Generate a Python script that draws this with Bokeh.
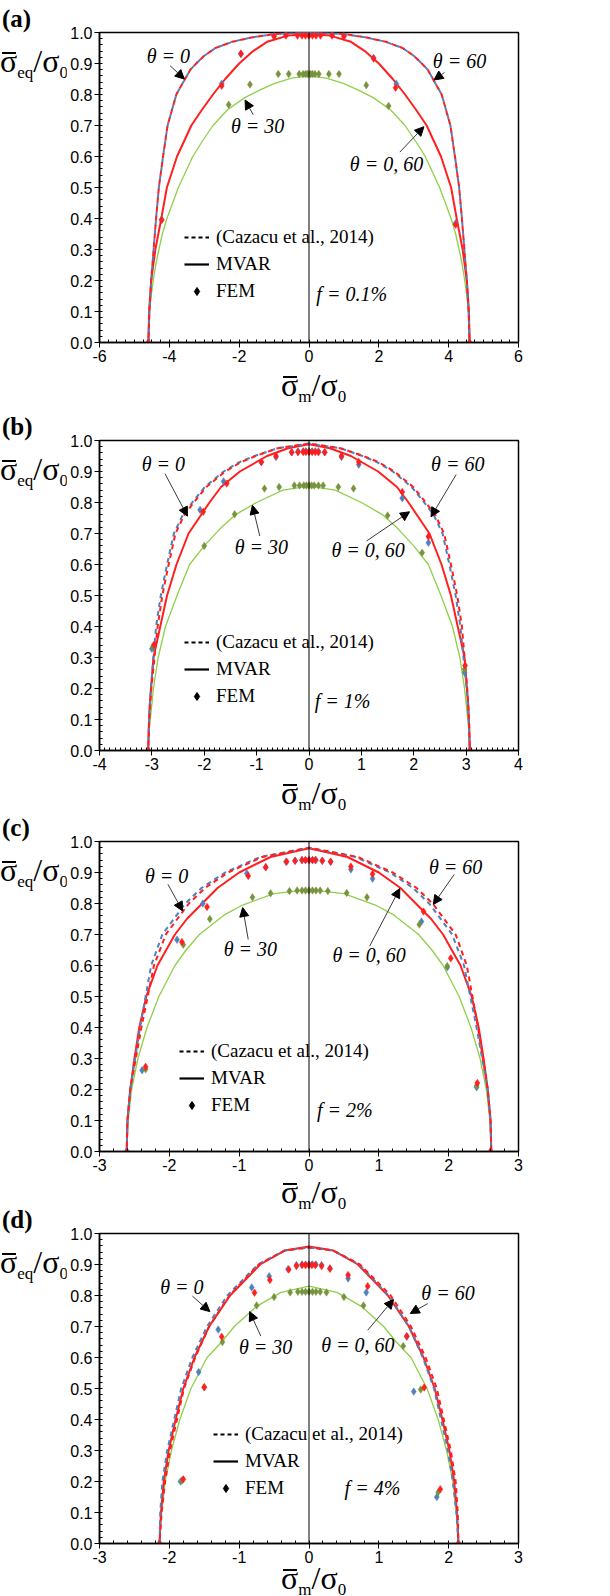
import numpy as np
from bokeh.plotting import figure
from bokeh.models import (Range1d, FixedTicker, PrintfTickFormatter, Span, Label,
                          Arrow, NormalHead, Legend, LegendItem, Div)
from bokeh.layouts import column, row
from bokeh.embed import file_html
from bokeh.resources import INLINE

# ===================== DATA =====================
# ---- panel (a): f = 0.1% ----
A_CZ0_X = [-4.60, -4.57, -4.52, -4.38, -4.30, -4.18, -4.05, -3.80, -3.55, -3.40, -3.23, -3.00, -2.68, -2.20, -1.60, -1.00, -0.50, 0.00,
           0.50, 1.00, 1.60, 2.20, 2.68, 3.00, 3.23, 3.40, 3.55, 3.80, 4.05, 4.18, 4.30, 4.38, 4.52, 4.57, 4.60]
A_CZ0_Y = [0.00, 0.10, 0.20, 0.40, 0.50, 0.60, 0.70, 0.80, 0.85, 0.88, 0.90, 0.925, 0.95, 0.97, 0.985, 0.995, 0.998, 1.00,
           0.998, 0.995, 0.985, 0.97, 0.95, 0.925, 0.90, 0.88, 0.85, 0.80, 0.70, 0.60, 0.50, 0.40, 0.20, 0.10, 0.00]
A_CZ60_X = [-4.60, -4.57, -4.52, -4.38, -4.30, -4.18, -4.05, -3.80, -3.55, -3.40, -3.23, -3.00, -2.68, -2.20, -1.60, -1.00, -0.50, 0.00,
            0.50, 1.00, 1.60, 2.20, 2.68, 3.00, 3.23, 3.40, 3.55, 3.80, 4.05, 4.18, 4.30, 4.38, 4.52, 4.57, 4.60]
A_CZ60_Y = [0.00, 0.10, 0.20, 0.40, 0.50, 0.60, 0.70, 0.80, 0.85, 0.88, 0.90, 0.925, 0.95, 0.97, 0.985, 0.995, 0.998, 1.00,
            0.998, 0.995, 0.985, 0.97, 0.95, 0.925, 0.90, 0.88, 0.85, 0.80, 0.70, 0.60, 0.50, 0.40, 0.20, 0.10, 0.00]
A_MV_X = [-4.60, -4.58, -4.52, -4.40, -4.23, -4.07, -3.78, -3.37, -3.07, -2.75, -2.40, -2.00, -1.60, -1.20, -0.60, 0.00,
          0.60, 1.20, 1.60, 2.00, 2.40, 2.75, 3.07, 3.37, 3.78, 4.07, 4.23, 4.40, 4.52, 4.58, 4.60]
A_MV_Y = [0.00, 0.10, 0.20, 0.30, 0.40, 0.50, 0.60, 0.70, 0.75, 0.80, 0.85, 0.90, 0.94, 0.97, 0.99, 0.995,
          0.99, 0.97, 0.94, 0.90, 0.85, 0.80, 0.75, 0.70, 0.60, 0.50, 0.40, 0.30, 0.20, 0.10, 0.00]
A_MV30_X = [-4.60, -4.59, -4.57, -4.52, -4.46, -4.39, -4.30, -4.20, -4.07, -3.74, -3.33, -3.05, -2.75, -2.34, -1.84, -1.40, -1.00, -0.50, 0.00,
            0.50, 1.00, 1.40, 1.84, 2.34, 2.75, 3.05, 3.33, 3.74, 4.07, 4.20, 4.30, 4.39, 4.46, 4.52, 4.57, 4.59, 4.60]
A_MV30_Y = [0.00, 0.05, 0.10, 0.15, 0.20, 0.25, 0.30, 0.35, 0.40, 0.50, 0.60, 0.65, 0.70, 0.75, 0.79, 0.815, 0.835, 0.853, 0.86,
            0.853, 0.835, 0.815, 0.79, 0.75, 0.70, 0.65, 0.60, 0.50, 0.40, 0.35, 0.30, 0.25, 0.20, 0.15, 0.10, 0.05, 0.00]
A_FEM0_X = [-4.60, -4.22, -2.50, -1.95, -1.00, -0.66, -0.33, -0.20, -0.10, 0.00, 0.10, 0.20, 0.33, 0.66, 1.00, 1.85, 2.48, 4.20, 4.60]
A_FEM0_Y = [0.00, 0.395, 0.828, 0.932, 0.987, 0.99, 0.99, 0.99, 0.99, 0.99, 0.99, 0.99, 0.99, 0.99, 0.987, 0.916, 0.822, 0.38, 0.00]
A_FEM60_X = [-4.60, -4.22, -2.50, -1.95, -1.00, -0.66, -0.33, -0.20, -0.10, 0.00, 0.10, 0.20, 0.33, 0.66, 1.00, 1.85, 2.50, 4.20, 4.60]
A_FEM60_Y = [0.00, 0.397, 0.835, 0.93, 0.99, 0.995, 0.997, 0.997, 0.997, 0.997, 0.997, 0.997, 0.997, 0.995, 0.99, 0.918, 0.835, 0.385, 0.00]
A_FEM30_X = [-2.30, -1.69, -0.88, -0.58, -0.28, -0.17, -0.10, -0.05, 0.00, 0.05, 0.10, 0.17, 0.28, 0.57, 0.86, 1.64, 2.28]
A_FEM30_Y = [0.767, 0.832, 0.866, 0.866, 0.866, 0.866, 0.866, 0.866, 0.866, 0.866, 0.866, 0.866, 0.866, 0.866, 0.866, 0.83, 0.763]

# ---- panel (b): f = 1% ----
B_CZ0_X = [-3.07, -3.05, -3.01, -2.95, -2.89, -2.80, -2.68, -2.55, -2.38, -2.20, -1.96, -1.60, -1.30, -1.02, -0.60, 0.00,
           0.60, 1.04, 1.33, 1.63, 1.99, 2.23, 2.41, 2.58, 2.71, 2.83, 2.92, 2.97, 3.02, 3.055, 3.07]
B_CZ0_Y = [0.00, 0.10, 0.20, 0.30, 0.40, 0.50, 0.60, 0.70, 0.76, 0.80, 0.85, 0.90, 0.93, 0.95, 0.975, 0.99,
           0.975, 0.95, 0.93, 0.90, 0.85, 0.80, 0.76, 0.70, 0.60, 0.50, 0.40, 0.30, 0.20, 0.10, 0.00]
B_CZ60_X = [-3.07, -3.055, -3.02, -2.97, -2.92, -2.83, -2.71, -2.58, -2.41, -2.23, -1.99, -1.63, -1.33, -1.04, -0.60, 0.00,
            0.60, 1.02, 1.30, 1.60, 1.96, 2.20, 2.38, 2.55, 2.68, 2.80, 2.89, 2.95, 3.01, 3.05, 3.07]
B_CZ60_Y = [0.00, 0.10, 0.20, 0.30, 0.40, 0.50, 0.60, 0.70, 0.76, 0.80, 0.85, 0.90, 0.93, 0.95, 0.975, 0.99,
            0.975, 0.95, 0.93, 0.90, 0.85, 0.80, 0.76, 0.70, 0.60, 0.50, 0.40, 0.30, 0.20, 0.10, 0.00]
B_MV_X = [-3.07, -3.06, -3.04, -2.97, -2.84, -2.71, -2.53, -2.30, -2.10, -1.90, -1.68, -1.32, -0.80, -0.40, 0.00,
          0.40, 0.80, 1.32, 1.68, 1.90, 2.10, 2.30, 2.53, 2.71, 2.84, 2.97, 3.04, 3.06, 3.07]
B_MV_Y = [0.00, 0.07, 0.15, 0.30, 0.40, 0.50, 0.60, 0.70, 0.75, 0.80, 0.85, 0.90, 0.95, 0.975, 0.988,
          0.975, 0.95, 0.90, 0.85, 0.80, 0.75, 0.70, 0.60, 0.50, 0.40, 0.30, 0.15, 0.07, 0.00]
B_MV30_X = [-3.07, -3.06, -3.03, -2.97, -2.88, -2.74, -2.52, -2.28, -2.00, -1.70, -1.41, -1.00, -0.50, 0.00,
            0.50, 1.00, 1.41, 1.70, 2.00, 2.28, 2.52, 2.74, 2.88, 2.97, 3.03, 3.06, 3.07]
B_MV30_Y = [0.00, 0.05, 0.10, 0.20, 0.30, 0.40, 0.50, 0.60, 0.66, 0.715, 0.76, 0.80, 0.84, 0.853,
            0.84, 0.80, 0.76, 0.715, 0.66, 0.60, 0.50, 0.40, 0.30, 0.20, 0.10, 0.05, 0.00]
B_FEM0_X = [-3.07, -2.96, -2.02, -1.57, -0.91, -0.63, -0.33, -0.21, -0.11, -0.06, 0.00, 0.06, 0.12, 0.18, 0.30, 0.62, 0.95, 1.78, 2.28, 2.98, 3.07]
B_FEM0_Y = [0.00, 0.341, 0.770, 0.861, 0.931, 0.950, 0.962, 0.962, 0.963, 0.963, 0.963, 0.963, 0.963, 0.962, 0.962, 0.950, 0.931, 0.834, 0.690, 0.274, 0.00]
B_FEM60_X = [-3.07, -3.00, -2.08, -1.63, -0.91, -0.63, -0.33, -0.21, -0.11, -0.06, 0.00, 0.06, 0.12, 0.18, 0.30, 0.62, 0.95, 1.78, 2.28, 2.97, 3.07]
B_FEM60_Y = [0.00, 0.328, 0.776, 0.868, 0.930, 0.947, 0.962, 0.965, 0.965, 0.965, 0.965, 0.965, 0.965, 0.965, 0.962, 0.947, 0.922, 0.814, 0.670, 0.252, 0.00]
B_FEM30_X = [-2.98, -2.00, -1.42, -0.85, -0.57, -0.28, -0.18, -0.10, -0.05, 0.00, 0.05, 0.10, 0.18, 0.27, 0.56, 0.85, 1.50, 2.16, 2.97]
B_FEM30_Y = [0.335, 0.660, 0.762, 0.845, 0.850, 0.855, 0.855, 0.855, 0.855, 0.855, 0.855, 0.855, 0.855, 0.855, 0.850, 0.845, 0.758, 0.638, 0.262]

# ---- panel (c): f = 2% ----
C_CZ0_X = [-2.61, -2.60, -2.56, -2.48, -2.40, -2.31, -2.22, -2.05, -1.82, -1.72, -1.49, -1.16, -0.67, 0.00,
           0.70, 1.20, 1.54, 1.77, 1.87, 2.10, 2.26, 2.34, 2.42, 2.49, 2.56, 2.60, 2.61]
C_CZ0_Y = [0.00, 0.10, 0.20, 0.30, 0.40, 0.50, 0.60, 0.70, 0.77, 0.80, 0.85, 0.90, 0.95, 0.98,
           0.95, 0.90, 0.85, 0.80, 0.77, 0.70, 0.60, 0.50, 0.40, 0.30, 0.20, 0.10, 0.00]
C_CZ60_X = [-2.61, -2.60, -2.56, -2.49, -2.42, -2.34, -2.26, -2.10, -1.87, -1.77, -1.54, -1.20, -0.70, 0.00,
            0.67, 1.16, 1.49, 1.72, 1.82, 2.05, 2.22, 2.31, 2.40, 2.48, 2.56, 2.60, 2.61]
C_CZ60_Y = [0.00, 0.10, 0.20, 0.30, 0.40, 0.50, 0.60, 0.70, 0.77, 0.80, 0.85, 0.90, 0.95, 0.98,
            0.95, 0.90, 0.85, 0.80, 0.77, 0.70, 0.60, 0.50, 0.40, 0.30, 0.20, 0.10, 0.00]
C_MV_X = [-2.61, -2.60, -2.56, -2.50, -2.43, -2.33, -2.17, -1.92, -1.75, -1.53, -1.31, -1.00, -0.55, 0.00,
          0.55, 1.00, 1.31, 1.53, 1.75, 1.92, 2.17, 2.33, 2.43, 2.50, 2.56, 2.60, 2.61]
C_MV_Y = [0.00, 0.10, 0.20, 0.30, 0.40, 0.50, 0.60, 0.70, 0.75, 0.80, 0.85, 0.90, 0.95, 0.978,
          0.95, 0.90, 0.85, 0.80, 0.75, 0.70, 0.60, 0.50, 0.40, 0.30, 0.20, 0.10, 0.00]
C_MV30_X = [-2.61, -2.60, -2.59, -2.54, -2.45, -2.32, -2.15, -1.92, -1.76, -1.57, -1.20, -0.95, -0.50, 0.00,
            0.50, 0.95, 1.20, 1.57, 1.76, 1.92, 2.15, 2.32, 2.45, 2.54, 2.59, 2.60, 2.61]
C_MV30_Y = [0.00, 0.05, 0.10, 0.20, 0.30, 0.40, 0.50, 0.60, 0.65, 0.70, 0.765, 0.795, 0.832, 0.845,
            0.832, 0.795, 0.765, 0.70, 0.65, 0.60, 0.50, 0.40, 0.30, 0.20, 0.10, 0.05, 0.00]
C_FEM0_X = [-2.61, -2.34, -1.82, -1.46, -0.87, -0.62, -0.32, -0.20, -0.10, -0.05, 0.00, 0.05, 0.09, 0.19, 0.31, 0.60, 0.91, 1.64, 2.03, 2.41, 2.60]
C_FEM0_Y = [0.00, 0.273, 0.676, 0.789, 0.889, 0.917, 0.935, 0.938, 0.940, 0.940, 0.940, 0.940, 0.940, 0.938, 0.935, 0.919, 0.895, 0.774, 0.623, 0.221, 0.00]
C_FEM60_X = [-2.61, -2.39, -1.89, -1.52, -0.89, -0.62, -0.33, -0.20, -0.10, -0.05, 0.00, 0.05, 0.10, 0.19, 0.31, 0.60, 0.91, 1.61, 1.98, 2.40, 2.60]
C_FEM60_Y = [0.00, 0.262, 0.683, 0.800, 0.897, 0.917, 0.935, 0.938, 0.940, 0.940, 0.940, 0.940, 0.940, 0.938, 0.935, 0.910, 0.880, 0.742, 0.594, 0.207, 0.00]
C_FEM30_X = [-2.34, -1.80, -1.42, -0.81, -0.55, -0.28, -0.17, -0.10, -0.05, 0.00, 0.05, 0.10, 0.16, 0.27, 0.54, 0.83, 1.58, 1.98, 2.40]
C_FEM30_Y = [0.265, 0.667, 0.750, 0.820, 0.833, 0.840, 0.842, 0.842, 0.842, 0.842, 0.842, 0.842, 0.842, 0.840, 0.834, 0.820, 0.732, 0.598, 0.212]

# ---- panel (d): f = 4% ----
D_CZ0_X = [-2.14, -2.11, -2.06, -1.99, -1.89, -1.79, -1.63, -1.43, -1.14, -0.72, -0.35, 0.00,
           0.35, 0.73, 1.17, 1.46, 1.67, 1.83, 1.93, 2.03, 2.10, 2.13, 2.14]
D_CZ0_Y = [0.00, 0.10, 0.20, 0.30, 0.40, 0.50, 0.60, 0.70, 0.80, 0.90, 0.945, 0.955,
           0.945, 0.90, 0.80, 0.70, 0.60, 0.50, 0.40, 0.30, 0.20, 0.10, 0.00]
D_CZ60_X = [-2.14, -2.13, -2.10, -2.03, -1.93, -1.83, -1.67, -1.46, -1.17, -0.73, -0.35, 0.00,
            0.35, 0.72, 1.14, 1.43, 1.63, 1.79, 1.89, 1.99, 2.06, 2.11, 2.14]
D_CZ60_Y = [0.00, 0.10, 0.20, 0.30, 0.40, 0.50, 0.60, 0.70, 0.80, 0.90, 0.945, 0.955,
            0.945, 0.90, 0.80, 0.70, 0.60, 0.50, 0.40, 0.30, 0.20, 0.10, 0.00]
D_MV_X = [-2.14, -2.13, -2.12, -2.08, -2.01, -1.91, -1.80, -1.64, -1.43, -1.13, -0.70, -0.35, 0.00,
          0.35, 0.70, 1.13, 1.43, 1.64, 1.80, 1.91, 2.01, 2.08, 2.12, 2.13, 2.14]
D_MV_Y = [0.00, 0.05, 0.10, 0.20, 0.30, 0.40, 0.50, 0.60, 0.70, 0.80, 0.90, 0.945, 0.958,
          0.945, 0.90, 0.80, 0.70, 0.60, 0.50, 0.40, 0.30, 0.20, 0.10, 0.05, 0.00]
D_MV30_X = [-2.14, -2.13, -2.11, -2.06, -1.97, -1.85, -1.69, -1.46, -1.25, -1.07, -0.75, -0.40, 0.00,
            0.40, 0.75, 1.07, 1.25, 1.46, 1.69, 1.85, 1.97, 2.06, 2.11, 2.13, 2.14]
D_MV30_Y = [0.00, 0.05, 0.10, 0.20, 0.30, 0.40, 0.50, 0.60, 0.65, 0.70, 0.765, 0.81, 0.83,
            0.81, 0.765, 0.70, 0.65, 0.60, 0.50, 0.40, 0.30, 0.20, 0.10, 0.05, 0.00]
D_FEM0_X = [-2.14, -1.80, -1.50, -1.25, -0.78, -0.56, -0.29, -0.18, -0.10, -0.05, 0.00, 0.04, 0.09, 0.18, 0.30, 0.56, 0.84, 1.40, 1.65, 1.88, 2.14]
D_FEM0_Y = [0.00, 0.207, 0.504, 0.667, 0.809, 0.850, 0.884, 0.895, 0.898, 0.898, 0.898, 0.898, 0.898, 0.895, 0.886, 0.866, 0.830, 0.669, 0.503, 0.175, 0.00]
D_FEM60_X = [-2.14, -1.84, -1.58, -1.30, -0.82, -0.57, -0.30, -0.18, -0.10, -0.05, 0.00, 0.05, 0.10, 0.18, 0.30, 0.56, 0.82, 1.40, 1.50, 1.83, 2.14]
D_FEM60_Y = [0.00, 0.200, 0.553, 0.690, 0.826, 0.862, 0.885, 0.898, 0.900, 0.900, 0.900, 0.900, 0.900, 0.898, 0.888, 0.855, 0.810, 0.667, 0.490, 0.150, 0.00]
D_FEM30_X = [-1.82, -1.50, -1.24, -0.75, -0.50, -0.27, -0.16, -0.10, -0.05, 0.00, 0.05, 0.10, 0.16, 0.25, 0.50, 0.78, 1.35, 1.60, 1.85]
D_FEM30_Y = [0.203, 0.504, 0.650, 0.768, 0.795, 0.810, 0.812, 0.812, 0.812, 0.812, 0.812, 0.812, 0.812, 0.810, 0.795, 0.768, 0.637, 0.497, 0.165]

PANEL_TAGS = ["(a)", "(b)", "(c)", "(d)"]
F_TEXTS = ["f = 0.1%", "f = 1%", "f = 2%", "f = 4%"]
LEGEND_LABELS = ["(Cazacu et al., 2014)", "MVAR", "FEM"]
Y_TICKS = [0.0, 0.1, 0.2, 0.3, 0.4, 0.5, 0.6, 0.7, 0.8, 0.9, 1.0]

# ===================== STYLE / LAYOUT =====================
RED = "#FF1F1F"
BLUE = "#4F81BD"
GREEN_LINE = "#8FCF4A"
GREEN_MK = "#77933C"
PAGE_W = 600
DIV_W = 66
B_LEFT = 33
FRAME_W = 419
B_RIGHT = PAGE_W - DIV_W - B_LEFT - FRAME_W
FRAME_H = 310
B_BOT = 26
MK = 7.5
NOTE_SIZE = "20px"
SERIF = "Liberation Serif"
SANS = "Liberation Sans"
FONT_CSS = "font-family:'Liberation Serif','Times New Roman',serif;color:#000;"
SUB = "font-size:17px;vertical-align:-6px;line-height:0;"
SIG_BAR = ('<span style="position:relative;display:inline-block;line-height:32px;">\u03c3'
           '<span style="position:absolute;left:2px;right:1px;top:7px;border-top:2px solid #000;"></span></span>')


def left_div(tag, b_top):
    h = b_top + FRAME_H + B_BOT
    html = ('<div style="position:relative;width:%dpx;height:%dpx;%s">'
            '<span style="position:absolute;left:2px;top:%dpx;font-size:25px;font-weight:bold;line-height:25px;white-space:nowrap;">%s</span>'
            '<span style="position:absolute;left:0px;top:%dpx;font-size:32px;line-height:32px;white-space:nowrap;">'
            '%s<span style="%s">eq</span>/\u03c3<span style="%s">0</span></span></div>'
            % (DIV_W, h, FONT_CSS, b_top - 26, tag, b_top + 13, SIG_BAR, SUB, SUB))
    return Div(text=html, width=DIV_W, height=h, margin=0, styles={"overflow": "visible"})


def bottom_div(h, top):
    left = DIV_W + B_LEFT + FRAME_W // 2 - 27
    html = ('<div style="position:relative;width:%dpx;height:%dpx;%s">'
            '<span style="position:absolute;left:%dpx;top:%dpx;font-size:32px;line-height:32px;white-space:nowrap;">'
            '%s<span style="%s">m</span>/\u03c3<span style="%s">0</span></span></div>'
            % (PAGE_W, h, FONT_CSS, left, top, SIG_BAR, SUB, SUB))
    return Div(text=html, width=PAGE_W, height=h, margin=0, styles={"overflow": "visible"})


def panel(tag, b_top, xr, xstep, nminor, cz0, cz60, mv, mv30, fem0, fem60, fem30,
          notes, arrows, legend_xy, ftext, fpos):
    xmin, xmax = xr
    p = figure(width=B_LEFT + FRAME_W + B_RIGHT, height=b_top + FRAME_H + B_BOT,
               x_range=Range1d(xmin, xmax), y_range=Range1d(0, 1),
               output_backend="svg", toolbar_location=None, margin=0,
               min_border_left=B_LEFT, min_border_right=B_RIGHT,
               min_border_top=b_top, min_border_bottom=B_BOT)
    p.xgrid.visible = False
    p.ygrid.visible = False
    p.outline_line_color = "black"
    p.outline_line_width = 1.5
    p.outline_line_alpha = 1.0

    xt = list(np.round(np.arange(xmin, xmax + 1e-9, xstep), 4))
    xm = list(np.round(np.arange(xmin, xmax + 1e-9, xstep / nminor), 4))
    ym = list(np.round(np.arange(0, 1.0001, 0.02), 4))
    p.xaxis.ticker = FixedTicker(ticks=xt, minor_ticks=xm)
    p.yaxis.ticker = FixedTicker(ticks=Y_TICKS, minor_ticks=ym)
    p.xaxis.formatter = PrintfTickFormatter(format="%d")
    p.yaxis.formatter = PrintfTickFormatter(format="%.1f")
    for ax in (p.xaxis, p.yaxis):
        ax.axis_line_color = "black"
        ax.axis_line_width = 1.5
        ax.major_tick_line_color = "black"
        ax.minor_tick_line_color = "black"
        ax.major_tick_in = 0
        ax.major_tick_out = 5
        ax.minor_tick_in = 3
        ax.minor_tick_out = 0
        ax.major_label_text_font = SANS
        ax.major_label_text_font_size = "16px"
        ax.major_label_text_color = "black"
        ax.major_label_standoff = 2

    p.add_layout(Span(location=0, dimension="height", line_color="black", line_width=1))

    # curves
    p.line(mv30[0], mv30[1], line_color=GREEN_LINE, line_width=1.3)
    p.line(mv[0], mv[1], line_color=RED, line_width=2)
    p.line(cz60[0], cz60[1], line_color=BLUE, line_width=2, line_dash="5 4")
    p.line(cz0[0], cz0[1], line_color=RED, line_width=2, line_dash="5 4", line_dash_offset=4)
    # FEM markers
    p.scatter(fem60[0], fem60[1], marker="diamond", size=MK, fill_color=BLUE, line_color=BLUE, line_width=0.5)
    p.scatter(fem30[0], fem30[1], marker="diamond", size=MK, fill_color=GREEN_MK, line_color=GREEN_MK, line_width=0.5)
    p.scatter(fem0[0], fem0[1], marker="diamond", size=MK, fill_color=RED, line_color=RED, line_width=0.5)

    for (tx, ty, txt) in notes:
        p.add_layout(Label(x=tx, y=ty, text=txt, text_font=SERIF, text_font_style="italic",
                           text_font_size=NOTE_SIZE, text_align="center", text_baseline="middle",
                           text_color="black"))
    for (x0, y0, x1, y1) in arrows:
        p.add_layout(Arrow(end=NormalHead(size=9, fill_color="black", line_color="black", line_width=1),
                           x_start=x0, y_start=y0, x_end=x1, y_end=y1,
                           line_color="#3a3a3a", line_width=1))
    p.add_layout(Label(x=fpos[0], y=fpos[1], text=ftext, text_font=SERIF, text_font_style="italic",
                       text_font_size=NOTE_SIZE, text_align="left", text_baseline="middle",
                       text_color="black"))

    # legend (renderers hold no drawable point)
    r_d = p.line([np.nan], [np.nan], line_color="black", line_width=2, line_dash="4 3")
    r_s = p.line([np.nan], [np.nan], line_color="black", line_width=2.2)
    r_m = p.scatter([np.nan], [np.nan], marker="diamond", size=8, fill_color="black", line_color="black")
    leg = Legend(items=[LegendItem(label=LEGEND_LABELS[0], renderers=[r_d]),
                        LegendItem(label=LEGEND_LABELS[1], renderers=[r_s]),
                        LegendItem(label=LEGEND_LABELS[2], renderers=[r_m])],
                 location=legend_xy, border_line_color=None, background_fill_alpha=0,
                 label_text_font=SERIF, label_text_font_size="19px", label_text_color="black",
                 glyph_width=25, glyph_height=20, label_height=20, spacing=5,
                 padding=0, margin=0, label_standoff=7)
    p.add_layout(leg)
    return row(left_div(tag, b_top), p, margin=0)


pa = panel(PANEL_TAGS[0], 32, (-6, 6), 2, 8,
           (A_CZ0_X, A_CZ0_Y), (A_CZ60_X, A_CZ60_Y), (A_MV_X, A_MV_Y), (A_MV30_X, A_MV30_Y),
           (A_FEM0_X, A_FEM0_Y), (A_FEM60_X, A_FEM60_Y), (A_FEM30_X, A_FEM30_Y),
           [(-4.03, 0.925, "\u03b8 = 0"), (4.31, 0.909, "\u03b8 = 60"),
            (-1.47, 0.70, "\u03b8 = 30"), (2.22, 0.576, "\u03b8 = 0, 60")],
           [(-3.98, 0.893, -3.57, 0.85), (3.88, 0.871, 3.58, 0.847),
            (-1.60, 0.735, -1.83, 0.782), (2.60, 0.614, 3.29, 0.696)],
           (85, 40), F_TEXTS[0], (0.21, 0.158))

pb = panel(PANEL_TAGS[1], 24, (-4, 4), 1, 10,
           (B_CZ0_X, B_CZ0_Y), (B_CZ60_X, B_CZ60_Y), (B_MV_X, B_MV_Y), (B_MV30_X, B_MV30_Y),
           (B_FEM0_X, B_FEM0_Y), (B_FEM60_X, B_FEM60_Y), (B_FEM30_X, B_FEM30_Y),
           [(-2.78, 0.923, "\u03b8 = 0"), (2.84, 0.923, "\u03b8 = 60"),
            (-0.91, 0.658, "\u03b8 = 30"), (1.13, 0.647, "\u03b8 = 0, 60")],
           [(-2.75, 0.893, -2.32, 0.756), (2.81, 0.89, 2.33, 0.754),
            (-0.94, 0.692, -1.08, 0.791), (1.10, 0.676, 1.92, 0.77)],
           (85, 43), F_TEXTS[1], (0.11, 0.161))

pc = panel(PANEL_TAGS[2], 24, (-3, 3), 1, 5,
           (C_CZ0_X, C_CZ0_Y), (C_CZ60_X, C_CZ60_Y), (C_MV_X, C_MV_Y), (C_MV30_X, C_MV30_Y),
           (C_FEM0_X, C_FEM0_Y), (C_FEM60_X, C_FEM60_Y), (C_FEM30_X, C_FEM30_Y),
           [(-2.04, 0.889, "\u03b8 = 0"), (2.10, 0.919, "\u03b8 = 60"),
            (-0.84, 0.652, "\u03b8 = 30"), (0.86, 0.634, "\u03b8 = 0, 60")],
           [(-2.02, 0.862, -1.81, 0.776), (2.08, 0.894, 1.78, 0.797),
            (-0.87, 0.684, -0.95, 0.787), (0.87, 0.663, 1.30, 0.848)],
           (80, 35), F_TEXTS[2], (0.115, 0.135))

pd_ = panel(PANEL_TAGS[3], 24, (-3, 3), 1, 5,
            (D_CZ0_X, D_CZ0_Y), (D_CZ60_X, D_CZ60_Y), (D_MV_X, D_MV_Y), (D_MV30_X, D_MV30_Y),
            (D_FEM0_X, D_FEM0_Y), (D_FEM60_X, D_FEM60_Y), (D_FEM30_X, D_FEM30_Y),
            [(-1.82, 0.828, "\u03b8 = 0"), (1.99, 0.809, "\u03b8 = 60"),
             (-0.62, 0.633, "\u03b8 = 30"), (0.70, 0.640, "\u03b8 = 0, 60")],
            [(-1.67, 0.798, -1.42, 0.748), (1.70, 0.774, 1.45, 0.742),
             (-0.69, 0.669, -0.85, 0.748), (0.84, 0.688, 1.21, 0.787)],
            (114, 44), F_TEXTS[3], (0.51, 0.178))

layout = column(pa, bottom_div(48, 1), pb, bottom_div(41, 1), pc, bottom_div(32, -1),
                pd_, bottom_div(25, -7), margin=0)
open("out.html", "w").write(file_html(layout, INLINE))
